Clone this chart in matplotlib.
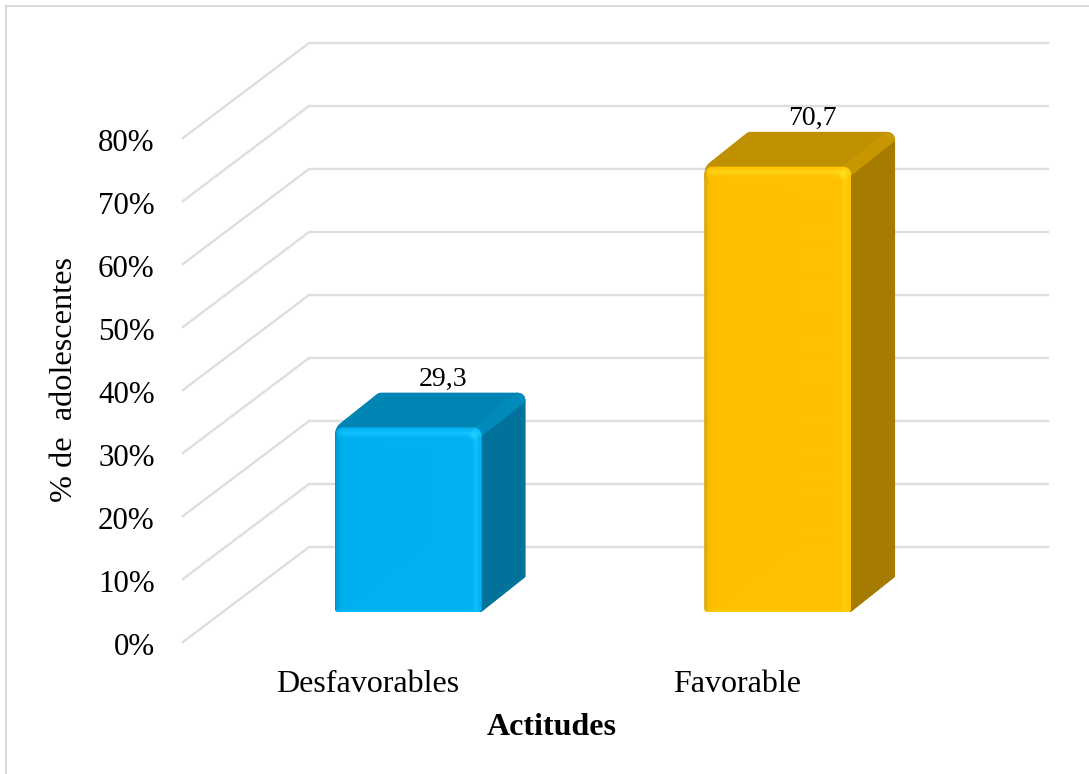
import numpy as np
import matplotlib
matplotlib.use("Agg")
import matplotlib.pyplot as plt
from matplotlib.path import Path
from matplotlib.patches import PathPatch
from matplotlib.lines import Line2D
from matplotlib.transforms import ScaledTranslation

categories = ["Desfavorables", "Favorable"]
values = [29.3, 70.7]
value_labels = ["29,3", "70,7"]
ticks = [0, 10, 20, 30, 40, 50, 60, 70, 80]
tick_labels = ["0%", "10%", "20%", "30%", "40%", "50%", "60%", "70%", "80%"]
front_colors = ["#00B0F0", "#FFC000"]
top_colors = ["#0084B4", "#BF9000"]
side_colors = ["#00729C", "#A67C00"]

W, H = 1089, 774
plt.rcParams["font.family"] = ["Liberation Serif", "DejaVu Serif"]
fig = plt.figure(figsize=(W / 100, H / 100), dpi=100)

# Axes frame: front edge of the 3D floor, in figure pixels
L, R, T, B = 183, 922, 138, 642
ax = fig.add_axes([L / W, 1 - B / H, (R - L) / W, (B - T) / H])
ax.set_xlim(-0.5, 1.5)
ax.set_ylim(0, 80)
SX = (R - L) / 2
SY = (B - T) / 80

def ox(px):
    return px / SX

def oy(px):
    return px / SY

for s in ax.spines.values():
    s.set_visible(False)
ax.patch.set_alpha(0)
ax.set_xticks(range(len(categories)), categories)
ax.set_yticks(ticks, tick_labels)
ax.tick_params(axis="both", length=0, colors="black")
ax.tick_params(axis="y", pad=20.5, labelsize=22.3)
ax.tick_params(axis="x", pad=20, labelsize=23)
nudge = ScaledTranslation(0, -2 / 100, fig.dpi_scale_trans)
for lab in ax.get_yticklabels():
    lab.set_transform(lab.get_transform() + nudge)
ax.set_xlabel("Actitudes", fontsize=23, fontweight="bold")
ax.xaxis.set_label_coords((552 - L) / (R - L), (B - 713) / (B - T), transform=ax.transAxes)
ax.set_ylabel("% de  adolescentes", fontsize=23.2)
ax.yaxis.set_label_coords((79 - L) / (R - L), (B - 380) / (B - T), transform=ax.transAxes)

# 3D walls: every gridline runs from the front edge to the back wall
WALL_DX, WALL_DY = 126, 95
for v in ticks:
    ax.plot([-0.5, -0.5 + ox(WALL_DX), 1.5 + ox(WALL_DX)],
            [v, v + oy(WALL_DY), v + oy(WALL_DY)],
            color="#DEDEDE", lw=1.7, zorder=1, clip_on=False,
            solid_joinstyle="miter")

def rounded(points, radii):
    """Closed path in data coordinates with corners rounded by radii in px."""
    pts = np.array(points, float)
    n = len(pts)
    verts, codes = [], []
    sc = np.array([SX, SY])
    for i in range(n):
        p, a, b = pts[i], pts[i - 1], pts[(i + 1) % n]
        r = radii[i]
        va = (a - p) * sc
        vb = (b - p) * sc
        p1 = p + va / np.linalg.norm(va) * r / sc
        p2 = p + vb / np.linalg.norm(vb) * r / sc
        verts.append(p1)
        codes.append(Path.MOVETO if i == 0 else Path.LINETO)
        verts += [p, p2]
        codes += [Path.CURVE3, Path.CURVE3]
    verts.append(verts[0])
    codes.append(Path.CLOSEPOLY)
    return Path(verts, codes)

def mix(a, b, t):
    return a * (1 - t[..., None]) + b * t[..., None]

def clipped(artist, patch):
    artist.set_clip_box(None)
    artist.set_clip_path(patch)
    return artist

# Bar geometry, in pixels relative to the axes frame
FLOOR_DX, FLOOR_DY = 40.5, 30
BAR_W = 147
DEPTH_X, DEPTH_Y = 44, 35

for i, (val, fc, tc, sc_) in enumerate(zip(values, front_colors, top_colors, side_colors)):
    x0 = i + ox(FLOOR_DX) - ox(BAR_W) / 2
    x1 = x0 + ox(BAR_W)
    y0 = oy(FLOOR_DY)
    y1 = y0 + val
    dx, dy = ox(DEPTH_X), oy(DEPTH_Y)

    # Outer silhouette of the whole block
    outline = rounded([(x0, y0), (x0, y1), (x0 + dx, y1 + dy), (x1 + dx, y1 + dy),
                       (x1 + dx, y0 + dy), (x1, y0)],
                      [3, 8, 3, 10, 1, 1])
    clip = PathPatch(outline, transform=ax.transData, fc="none", ec="none")
    ax.add_patch(clip)

    clipped(ax.fill([x1 - ox(12), x1, x1 + dx, x1 + dx, x1 - ox(12)],
                    [y0, y0, y0 + dy, y1 + dy, y1],
                    color=sc_, lw=0, zorder=3)[0], clip)
    clipped(ax.fill([x0, x0, x0 + dx, x1 + dx, x1, x0 + ox(12)],
                    [y1 - oy(12), y1, y1 + dy, y1 + dy, y1, y1 - oy(12)],
                    color=tc, lw=0, zorder=3)[0], clip)

    # Bevel strip running from the front corner to the back corner
    light = (np.array(matplotlib.colors.to_rgb(tc)) * 0.88
             + 0.12 * np.array(matplotlib.colors.to_rgb(fc)))
    clipped(ax.fill([x1 - ox(9), x1 + dx - ox(9), x1 + dx, x1 + dx, x1],
                    [y1, y1 + dy, y1 + dy, y1 + dy - oy(9), y1 - oy(9)],
                    color=light, lw=0, zorder=3.1)[0], clip)

    # Front face with bevelled edges
    ny, nx = int(round(val * SY)), BAR_W
    xx, yy = np.meshgrid(np.arange(nx) + 0.5, np.arange(ny) + 0.5)
    base = np.array(matplotlib.colors.to_rgb(fc))
    bright = np.clip(base + np.array([0.06, 0.07, 0.07]), 0, 1)
    dark = base * 0.78
    img = np.ones((ny, nx, 3)) * base
    band_top = np.exp(-((yy - 6) / 3.5) ** 2) * 0.9
    band_right = np.exp(-((nx - xx - 6) / 3.0) ** 2) * 0.8
    img = mix(img, bright, np.maximum(band_top, band_right))
    corner = np.exp(-(((nx - xx - 8) / 4) ** 2 + ((yy - 8) / 4) ** 2)) * 0.7
    img = mix(img, np.clip(base + 0.16, 0, 1), corner)
    img = mix(img, dark, np.exp(-xx / 2.5))
    img = mix(img, bright, np.exp(-(ny - yy) / 2.0) * 0.7)
    im = ax.imshow(img, extent=(x0, x1, y0, y1), aspect="auto", zorder=4,
                   interpolation="bilinear")
    face = PathPatch(rounded([(x0, y0), (x0, y1), (x1, y1), (x1, y0)], [3, 9, 9, 3]),
                     transform=ax.transData, fc="none", ec="none")
    ax.add_patch(face)
    clipped(im, face)

    ax.text(i + ox(FLOOR_DX + 35), y1 + oy(48), value_labels[i],
            ha="center", va="center", fontsize=20, color="black", zorder=6)

ax.set_xlim(-0.5, 1.5)
ax.set_ylim(0, 80)

# Chart-area border visible on the left and top
fig.add_artist(Line2D([6 / W, 6 / W, 1], [0, 1 - 6 / H, 1 - 6 / H],
                      color="#D9D9D9", lw=1.5, transform=fig.transFigure))

fig.savefig("out.png", dpi=100, facecolor="white")
